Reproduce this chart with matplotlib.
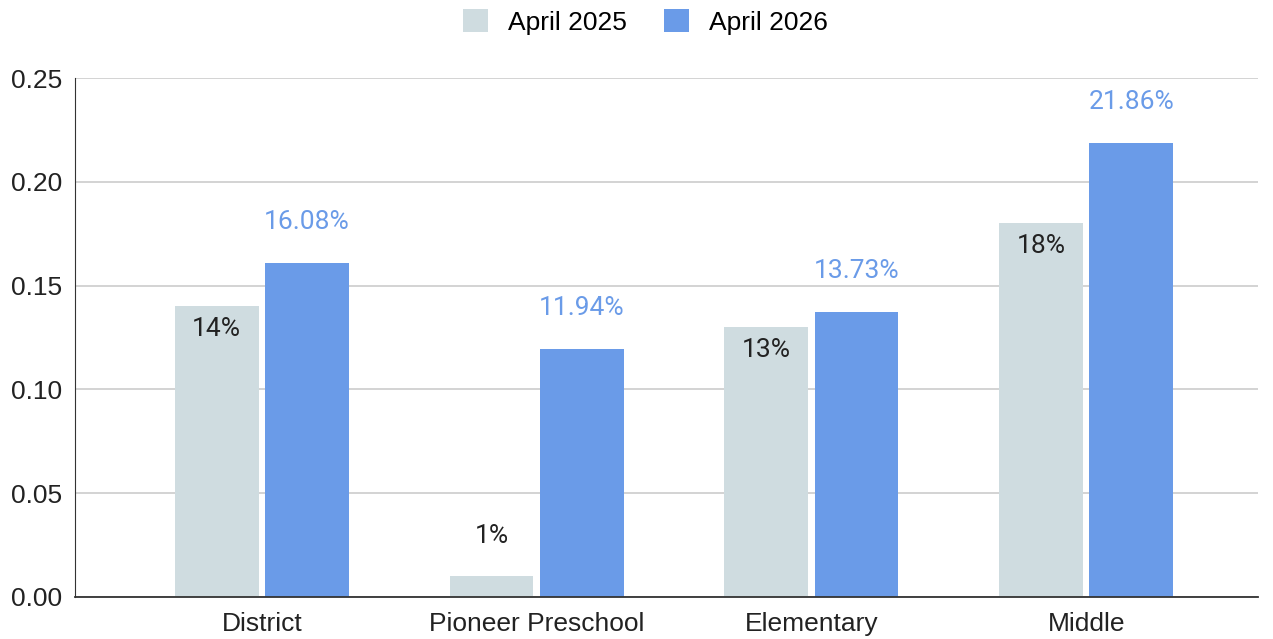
import matplotlib
matplotlib.use("Agg")
import matplotlib.pyplot as plt
import numpy as np

categories = ["District", "Pioneer Preschool", "Elementary", "Middle"]
series_names = ["April 2025", "April 2026"]
values_2025 = [0.14, 0.01, 0.13, 0.18]
values_2026 = [0.1608, 0.1194, 0.1373, 0.2186]
labels_2025 = ["14%", "1%", "13%", "18%"]
labels_2026 = ["16.08%", "11.94%", "13.73%", "21.86%"]
yticks = [0.00, 0.05, 0.10, 0.15, 0.20, 0.25]

c25 = "#cfdce0"
c26 = "#6a9be8"

fig = plt.figure(figsize=(12.73, 6.39), dpi=100)
ax = fig.add_axes([75/1273, 42/639, (1258-75)/1273, (597-78)/639])

x = np.arange(len(categories))
w = 0.305
off = 0.164
b1 = ax.bar(x - off, values_2025, w, color=c25, label=series_names[0], zorder=3)
b2 = ax.bar(x + off, values_2026, w, color=c26, label=series_names[1], zorder=3)

font = ["Liberation Sans", "DejaVu Sans"]
lfont = ["Roboto", "DejaVu Sans"]
fs = 19

for xi, v, t in zip(x, values_2025, labels_2025):
    dy = 40 if v < 0.03 else -23
    ax.annotate(t, (xi - off, v), xytext=(0, dy), textcoords="offset pixels",
                ha="center", va="center", fontsize=fs, color="#222222", family=lfont)
for xi, v, t in zip(x, values_2026, labels_2026):
    ax.annotate(t, (xi + off, v), xytext=(0, 41), textcoords="offset pixels",
                ha="center", va="center", fontsize=fs, color=c26, family=lfont)

ax.set_ylim(0, 0.25)
ax.set_xlim(-0.68, 3.625)
ax.set_yticks(yticks)
ax.set_yticklabels([f"{t:.2f}" for t in yticks], fontsize=fs, family=font, color="#222222")
ax.set_xticks(x)
ax.set_xticklabels(categories, fontsize=fs, family=font, color="#222222")
ax.tick_params(axis="both", length=0)
ax.tick_params(axis="y", pad=9)
ax.tick_params(axis="x", pad=10.5)
ax.grid(axis="y", color="#cccccc", linewidth=1.2, zorder=0)
for s in ["top", "right"]:
    ax.spines[s].set_visible(False)
ax.spines["left"].set_color("#333333")
ax.spines["bottom"].set_color("#333333")
ax.spines["bottom"].set_linewidth(1.3)
ax.spines["bottom"].set_zorder(4)

leg = fig.legend(handles=[b1, b2], labels=series_names, loc="center", bbox_to_anchor=(0.507, 1 - 22/639),
                 ncol=2, frameon=False, prop={"family": font, "size": fs},
                 handlelength=0.95, handleheight=0.95, handletextpad=0.76, columnspacing=1.4)

fig.savefig("out.png", dpi=100)
